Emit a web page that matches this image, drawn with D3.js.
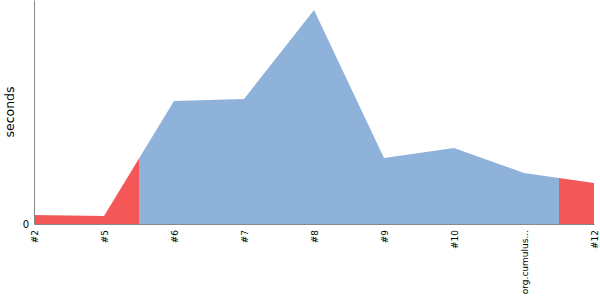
<!DOCTYPE html>
<html>
<head>
<meta charset="utf-8">
<script src="https://cdn.jsdelivr.net/npm/d3@7"></script>
<style>
body { margin: 0; background: #fff; }
svg text { font-family: "DejaVu Sans", sans-serif; }
</style>
</head>
<body>
<script>
// build trend data
var builds = ["#2", "#5", "#6", "#7", "#8", "#9", "#10", "org.cumulus...", "#12"];
var durations = [9, 8, 123, 125, 214, 66, 76, 51, 41];
var statuses = ["failed", "failed", "ok", "ok", "ok", "ok", "ok", "ok", "failed"];

var colors = {failed: "#f35757", ok: "#8fb2da"};

var margin = {top: 0, right: 6, bottom: 76, left: 34},
    width = 600 - margin.left - margin.right,
    height = 300 - margin.top - margin.bottom;

var data = builds.map(function(b, i) {
    return {build: b, value: durations[i], status: statuses[i]};
});

var x = d3.scalePoint()
    .domain(builds)
    .range([0, width]);

var y = d3.scaleLinear()
    .domain([0, 224])
    .range([height, 0]);

var svg = d3.select("body")
    .append("svg")
    .attr("width", 600)
    .attr("height", 300)
    .append("g")
    .attr("transform", "translate(" + margin.left + "," + margin.top + ")");

var area = d3.area()
    .x(function(d) { return x(d.build); })
    .y0(height)
    .y1(function(d) { return y(d.value); });

var step = x.step();

// one clip per build, half a step either side
var defs = svg.append("defs");
data.forEach(function(d, i) {
    var x0 = Math.max(0, x(d.build) - step / 2),
        x1 = Math.min(width, x(d.build) + step / 2);
    defs.append("clipPath")
        .attr("id", "clip" + i)
        .append("rect")
        .attr("x", x0)
        .attr("y", 0)
        .attr("width", x1 - x0)
        .attr("height", height);
});

svg.selectAll(".area")
    .data(data)
    .enter()
    .append("path")
    .attr("class", "area")
    .attr("d", area(data))
    .attr("clip-path", function(d, i) { return "url(#clip" + i + ")"; })
    .style("fill", function(d) { return colors[d.status]; });

// axes
var xAxis = svg.append("g")
    .attr("transform", "translate(0," + height + ")")
    .call(d3.axisBottom(x).tickSize(0).tickPadding(6));

xAxis.selectAll("text")
    .style("font-size", "9px")
    .attr("transform", "rotate(-90)")
    .attr("x", -6)
    .attr("y", 0)
    .attr("dy", "0.35em")
    .style("text-anchor", "end");

var yAxis = svg.append("g")
    .call(d3.axisLeft(y).tickValues([0]).tickSize(0).tickPadding(5));

yAxis.selectAll("text").style("font-size", "10px");

svg.selectAll(".domain")
    .style("stroke", "#888");

svg.append("text")
    .attr("transform", "rotate(-90)")
    .attr("x", -height / 2)
    .attr("y", -margin.left + 14)
    .style("text-anchor", "middle")
    .style("font-size", "12.5px")
    .text("seconds");
</script>
</body>
</html>
